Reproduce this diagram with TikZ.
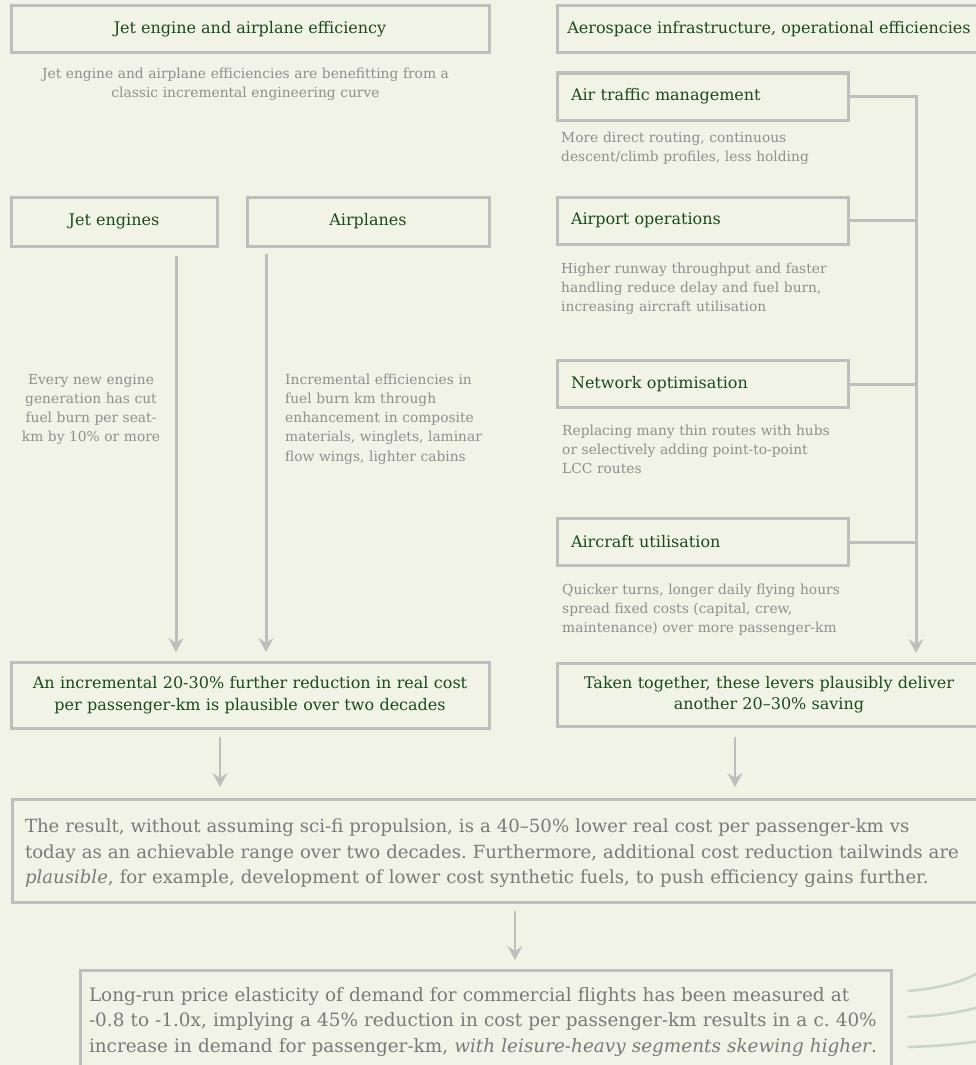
\documentclass[tikz,border=0pt]{standalone}
\usepackage{fontspec}
\setmainfont{DejaVu Serif}
\usetikzlibrary{arrows.meta}
\definecolor{bg}{HTML}{F0F3E6}
\definecolor{boxc}{HTML}{BEBEBE}
\definecolor{ttl}{HTML}{1A4B1A}
\definecolor{dsc}{HTML}{8F8F8F}
\definecolor{bigc}{HTML}{7A7A7A}
\definecolor{crv}{HTML}{C9D6C3}
\frenchspacing
\begin{document}
\begin{tikzpicture}[x=1pt,y=-1pt,
  box/.style={draw=boxc, line width=3pt, inner sep=0pt, text=ttl, font=\fontsize{16}{22}\selectfont},
  lbox/.style={box, inner xsep=14pt, text width=263pt, align=left, minimum width=291pt, minimum height=47pt},
  desc/.style={text=dsc, inner sep=0pt, font=\fontsize{13.8}{19.3}\selectfont},
  bigbox/.style={draw=boxc, line width=3pt, inner ysep=0pt, text=bigc, align=left},
  conn/.style={draw=boxc, line width=3pt},
  thinconn/.style={draw=boxc, line width=2pt},
  tip/.style={-{Stealth[length=14pt,width=15pt,inset=5pt]}},
  curve/.style={draw=crv, line width=2.5pt}
]
\fill[bg] (0,0) rectangle (976,1065);
\useasboundingbox (0,0) rectangle (976,1065);
\clip (0,0) rectangle (976,1065);

% left column
\node[box, minimum width=478pt, minimum height=47pt] (b1) at (250,29.5) {Jet engine and airplane efficiency};
\node[desc, text width=470pt, align=center, anchor=base] (d1) at (245.5,78)
  {Jet engine and airplane efficiencies are benefitting from a\\classic incremental engineering curve};
\node[box, minimum width=206pt, minimum height=49pt] (je) at (114,221.5) {Jet engines};
\node[box, minimum width=242pt, minimum height=49pt] (ap) at (368,221.5) {Airplanes};
\node[desc, text width=170pt, align=center, anchor=base] (dje) at (91,384)
  {Every new engine\\generation has cut\\fuel burn per seat-\\km by 10\% or more};
\node[desc, text width=230pt, align=left, anchor=base west] (dap) at (285,384)
  {Incremental efficiencies in\\fuel burn km through\\enhancement in composite\\materials, winglets, laminar\\flow wings, lighter cabins};
\node[box, minimum width=478pt, minimum height=66pt, text width=470pt, align=center] (inc) at (250,695)
  {An incremental 20-30\% further reduction in real cost\\per passenger-km is plausible over two decades};

\coordinate (jeS) at (176,256);
\coordinate (apS) at (266,254);
\coordinate (tipL) at (176,652);
\draw[conn, tip] (jeS) -- (jeS |- tipL);
\draw[conn, tip] (apS) -- (apS |- tipL);

% right column
\node[box, minimum width=424pt, minimum height=47pt] (b2) at (769,29.5) {Aerospace infrastructure, operational efficiencies};
\node[lbox] (atm) at (702.5,96.5) {Air traffic management};
\node[desc, text width=330pt, align=left, anchor=base west] (datm) at (561,142)
  {More direct routing, continuous\\descent/climb profiles, less holding};
\node[lbox] (ao) at (702.5,220.5) {Airport operations};
\node[desc, text width=330pt, align=left, anchor=base west] (dao) at (561,273)
  {Higher runway throughput and faster\\handling reduce delay and fuel burn,\\increasing aircraft utilisation};
\node[lbox] (no) at (702.5,384) {Network optimisation};
\node[desc, text width=330pt, align=left, anchor=base west] (dno) at (562,435)
  {Replacing many thin routes with hubs\\or selectively adding point-to-point\\LCC routes};
\node[lbox] (au) at (702.5,542) {Aircraft utilisation};
\node[desc, text width=330pt, align=left, anchor=base west] (dau) at (562,594)
  {Quicker turns, longer daily flying hours\\spread fixed costs (capital, crew,\\maintenance) over more passenger-km};
\node[box, minimum width=424pt, minimum height=63pt, text width=415pt, align=center, font=\fontsize{16}{21.5}\selectfont] (tk) at (769,694.5)
  {Taken together, these levers plausibly deliver\\another 20–30\% saving};

\coordinate (trunk) at (916,96.5);
\coordinate (tipR) at (916,653);
\draw[conn, tip] (atm.east) -- (trunk) -- (tipR);
\draw[conn] (ao.east) -- (ao.east -| trunk);
\draw[conn] (no.east) -- (no.east -| trunk);
\draw[conn] (au.east) -- (au.east -| trunk);

% lower boxes
\node[bigbox, minimum width=973pt, minimum height=103pt, inner xsep=13pt, text width=947pt, font=\fontsize{18.1}{25.5}\selectfont] (res) at (498.5,850.5)
  {\rule{0pt}{20pt}The result, without assuming sci-fi propulsion, is a 40–50\% lower real cost per passenger-km vs\\
   today as an achievable range over two decades. Furthermore, additional cost reduction tailwinds are\\
   \textit{plausible}, for example, development of lower cost synthetic fuels, to push efficiency gains further.};
\node[bigbox, minimum width=811pt, minimum height=108pt, inner xsep=9pt, text width=793pt, font=\fontsize{18.4}{25.5}\selectfont] (dem) at (485.5,1024)
  {Long-run price elasticity of demand for commercial flights has been measured at\\
   -0.8 to -1.0x, implying a 45\% reduction in cost per passenger-km results in a c. 40\%\\
   increase in demand for passenger-km, \textit{with leisure-heavy segments skewing higher}.\rule[-9pt]{0pt}{1pt}};

\coordinate (aL) at (220,737);
\coordinate (aR) at (735,737);
\coordinate (aEnd) at (220,787);
\draw[thinconn, tip] (aL) -- (aL |- aEnd);
\draw[thinconn, tip] (aR) -- (aR |- aEnd);
\coordinate (aB) at (515,911);
\coordinate (aBEnd) at (515,960);
\draw[thinconn, tip] (aB) -- (aBEnd);

% curves leaving the last box
\coordinate (c1s) at (908,991);
\coordinate (c1e) at (980,972);
\coordinate (c2s) at (908,1017);
\coordinate (c2e) at (980,1007);
\coordinate (c3s) at (908,1047);
\coordinate (c3e) at (980,1041);
\draw[curve] (c1s) .. controls (940,988) and (960,983) .. (c1e);
\draw[curve] (c2s) .. controls (940,1016) and (960,1012) .. (c2e);
\draw[curve] (c3s) .. controls (940,1046) and (960,1044) .. (c3e);
\end{tikzpicture}
\end{document}
